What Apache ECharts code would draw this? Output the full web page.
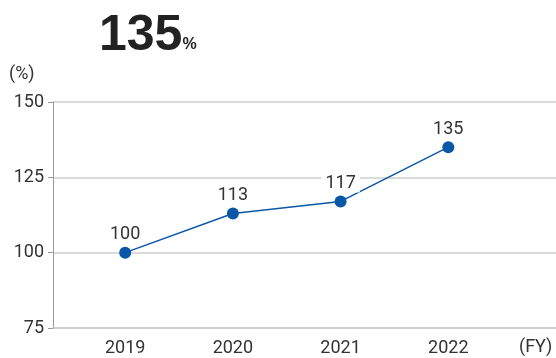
<!DOCTYPE html>
<html>
<head>
<meta charset="utf-8">
<script src="https://cdn.jsdelivr.net/npm/echarts@6/dist/echarts.min.js"></script>
<style>
  html, body { margin: 0; padding: 0; background: #fff; }
  #chart { width: 556px; height: 358px; }
</style>
</head>
<body>
<div id="chart"></div>
<script>
// data
const years = [2019, 2020, 2021, 2022];
const ratios = [100, 113, 117, 135];
const yTicks = [75, 100, 125, 150];
const headline = '135';

const chart = echarts.init(document.getElementById('chart'));

const option = {
  animation: false,
  textStyle: { fontFamily: 'Roboto' },
  title: {
    text: '{a|' + headline + '}{b|%}',
    left: 94,
    top: 6,
    textStyle: {
      rich: {
        a: { fontSize: 50, fontWeight: 'bold', color: '#222', fontFamily: 'Liberation Sans' },
        b: { fontSize: 16, fontWeight: 'bold', color: '#222', fontFamily: 'Liberation Sans', padding: [18, 0, 0, 0] }
      }
    }
  },
  grid: { left: 53, right: 0, top: 102, bottom: 30 },
  graphic: [
    { type: 'text', left: 9, top: 65, style: { text: '(%)', fontSize: 18, fill: '#333', fontFamily: 'Roboto' } },
    { type: 'text', left: 519, top: 338, style: { text: '(FY)', fontSize: 18, fill: '#333', fontFamily: 'Roboto' } }
  ],
  xAxis: {
    type: 'value',
    min: 2018.33,
    max: 2023,
    splitLine: { show: false },
    axisLine: { show: true, lineStyle: { color: '#c8c8c8', width: 1.5 } },
    axisTick: { show: false },
    axisLabel: {
      customValues: years,
      fontSize: 18,
      color: '#333',
      margin: 11,
      formatter: v => String(v)
    }
  },
  yAxis: {
    type: 'value',
    min: yTicks[0],
    max: yTicks[yTicks.length - 1],
    interval: 25,
    axisLine: { show: true, lineStyle: { color: '#999' } },
    axisTick: { show: true, length: 5, lineStyle: { color: '#999' } },
    splitLine: { lineStyle: { color: '#cfcfcf', width: 1.5 } },
    axisLabel: { fontSize: 18, color: '#333', margin: 9 }
  },
  series: [
    {
      type: 'line',
      data: years.map((y, i) => [y, ratios[i]]),
      symbol: 'circle',
      symbolSize: 12,
      itemStyle: { color: '#0a57a8' },
      lineStyle: { color: '#0a57a8', width: 1.5 },
      label: {
        show: true,
        position: 'top',
        distance: 3,
        fontSize: 18,
        color: '#333',
        backgroundColor: '#fff',
        padding: [0, 4],
        formatter: p => p.value[1]
      }
    }
  ]
};

chart.setOption(option);
</script>
</body>
</html>
